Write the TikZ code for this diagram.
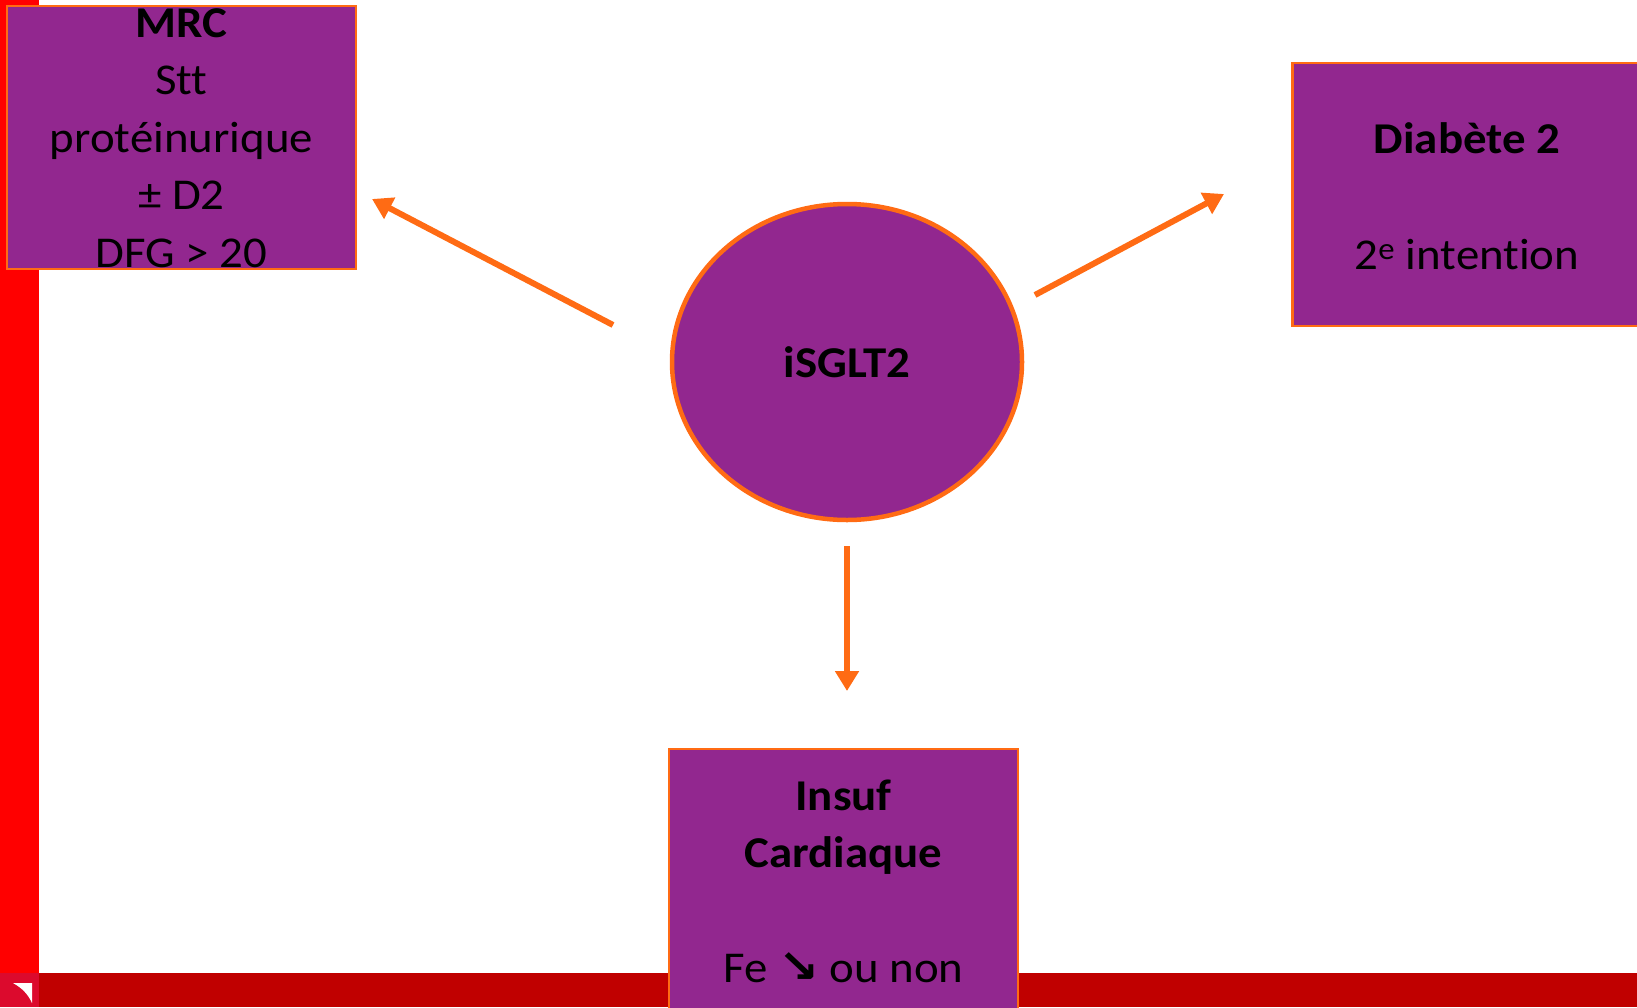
\documentclass[tikz,border=0pt]{standalone}
\usepackage{graphicx}
\usepackage{fontspec}
\setmainfont{Carlito}[Ligatures=NoCommon]
\newfontfamily\dejavu{DejaVu Sans}
\usetikzlibrary{shapes.geometric,arrows.meta}
\definecolor{purp}{RGB}{146,39,143}
\definecolor{orng}{RGB}{255,107,20}
\definecolor{redbar}{RGB}{255,0,0}
\definecolor{darkred}{RGB}{192,0,0}
\definecolor{cornerred}{RGB}{220,10,45}
\newcommand{\sx}[1]{\scalebox{1.065}[1]{#1}}
\begin{document}
\begin{tikzpicture}[x=1pt,y=-1pt,
  every node/.style={inner sep=0pt,outer sep=0pt},
  boxnode/.style={rectangle,draw=orng,fill=purp,line width=2.5pt,minimum width=349pt,minimum height=263pt},
  ellnode/.style={ellipse,draw=orng,fill=purp,line width=4.5pt,minimum width=350pt,minimum height=316pt},
  txt/.style={anchor=base,text=black,font=\fontsize{44}{57.5}\selectfont},
  arr/.style={draw=orng,line width=6pt,-{Triangle[length=20pt,width=23pt]}}]
\useasboundingbox (0,0) rectangle (1637,1007);
\clip (0,0) rectangle (1637,1007);
% frame bars
\fill[redbar] (0,0) rectangle (39,973);
\fill[darkred] (39,973) rectangle (1637,1007);
\fill[cornerred] (0,973) rectangle (39,1007);
\fill[white] (32,983) -- (13,983) .. controls (22,988) and (28,994) .. (32,1003) -- cycle;
% boxes
\node[boxnode] (mrc) at (181.5,137.5) {};
\node[boxnode] (dia) at (1467,194.5) {};
\node[boxnode] (ic) at (843.5,880.5) {};
\node[ellnode] (isg) at (847,362) {};
% texts
\node[txt] (m1) at (181.5,37) {\bfseries\sx{MRC}};
\node[txt] (m2) at (181.5,94.5) {\sx{Stt}};
\node[txt] (m3) at (181.5,152) {\sx{protéinurique}};
\node[txt] (m4) at (181.5,209.5) {\sx{± D2}};
\node[txt] (m5) at (181.5,267) {\sx{DFG > 20}};
\node[txt] (d1) at (1467,153) {\bfseries\sx{Diabète 2}};
\node[txt] (d2) at (1467,269) {\sx{2\textsuperscript{e} intention}};
\node[txt] (s1) at (847,377) {\bfseries\sx{iSGLT2}};
\node[txt] (i1) at (843.5,810) {\bfseries\sx{Insuf}};
\node[txt] (i2) at (843.5,867) {\bfseries\sx{Cardiaque}};
\node[txt] (i3) at (843.5,982) {\sx{Fe {\dejavu\bfseries\fontsize{46}{46}\selectfont ↘} ou non}};
% arrows
\coordinate (a1s) at (613,325);
\coordinate (a1e) at (372,199);
\coordinate (a2s) at (1035,295);
\coordinate (a2e) at (1224,194);
\coordinate (a3s) at (847,546);
\coordinate (a3e) at (847,691);
\draw[arr] (a1s) -- (a1e);
\draw[arr] (a2s) -- (a2e);
\draw[arr] (a3s) -- (a3e);
\end{tikzpicture}
\end{document}
